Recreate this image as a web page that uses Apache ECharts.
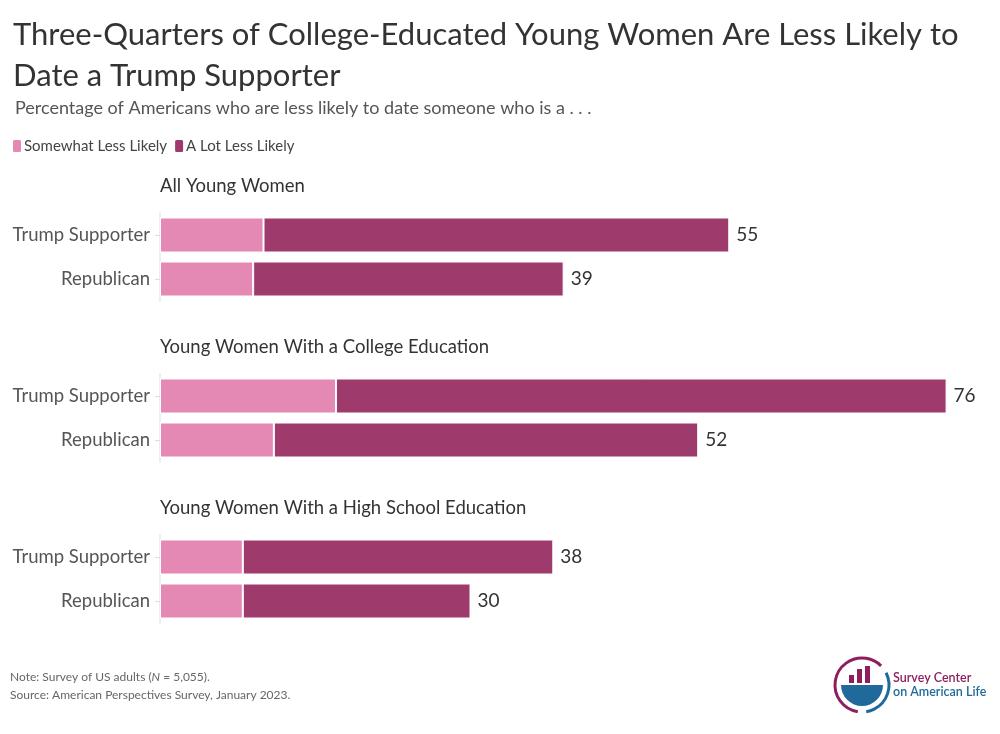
<!DOCTYPE html>
<html><head><meta charset="utf-8">
<script src="https://cdn.jsdelivr.net/npm/echarts@6/dist/echarts.min.js"></script>
<style>html,body{margin:0;padding:0;background:#fff}#c{width:1000px;height:734px}</style>
</head><body><div id="c"></div>
<script>
const categories = ['Trump Supporter', 'Republican'];
const groupTitles = ['All Young Women', 'Young Women With a College Education', 'Young Women With a High School Education'];
const somewhatLess = [[10, 9], [17, 11], [8, 8]];
const aLotLess = [[45, 30], [59, 41], [30, 22]];
const seriesNames = ['Somewhat Less Likely', 'A Lot Less Likely'];

const FONT = 'Lato, "Open Sans", sans-serif';
const colors = ['#E488B4', '#9F3A6C'];
const gridTops = [213, 374, 535];

const grids = [], xAxes = [], yAxes = [], series = [], graphics = [];
gridTops.forEach((t, i) => {
  grids.push({left: 160, top: t, width: 828, height: 88, containLabel: false});
  xAxes.push({type: 'value', gridIndex: i, min: 0, max: 80, show: false});
  yAxes.push({
    type: 'category', gridIndex: i, data: categories, inverse: true,
    axisLine: {show: true, lineStyle: {color: '#eeeeee', width: 2}},
    axisTick: {show: true, alignWithLabel: true, length: 5, lineStyle: {color: '#dddddd'}},
    axisLabel: {color: '#555', fontSize: 18.5, fontFamily: FONT, margin: 10}
  });
  series.push({
    name: seriesNames[0], type: 'bar', stack: 's' + i, xAxisIndex: i, yAxisIndex: i,
    data: somewhatLess[i], barWidth: 35, itemStyle: {color: colors[0], borderColor: '#fff', borderWidth: 1}
  });
  series.push({
    name: seriesNames[1], type: 'bar', stack: 's' + i, xAxisIndex: i, yAxisIndex: i,
    data: aLotLess[i], barWidth: 35, itemStyle: {color: colors[1], borderColor: '#fff', borderWidth: 1},
    label: {show: true, position: 'right', distance: 7, color: '#333', fontSize: 19, fontFamily: FONT,
      formatter: p => String(somewhatLess[i][p.dataIndex] + aLotLess[i][p.dataIndex])}
  });
  graphics.push({type: 'text', left: 160, top: t - 36,
    style: {text: groupTitles[i], fill: '#333', font: '18.5px ' + FONT}});
});

// logo
graphics.push(
  {type: 'arc', shape: {cx: 862, cy: 685, r: 27, startAngle: Math.PI * 0.55, endAngle: Math.PI * 1.75}, style: {stroke: '#8E1F5E', lineWidth: 3, fill: 'none'}},
  {type: 'arc', shape: {cx: 862, cy: 685, r: 27, startAngle: Math.PI * 1.85, endAngle: Math.PI * 0.45}, style: {stroke: '#1F6A9A', lineWidth: 3, fill: 'none'}},
  {type: 'rect', shape: {x: 849, y: 675, width: 5, height: 8}, style: {fill: '#8E1F5E'}},
  {type: 'rect', shape: {x: 857, y: 669, width: 5, height: 14}, style: {fill: '#8E1F5E'}},
  {type: 'rect', shape: {x: 865, y: 666, width: 5, height: 17}, style: {fill: '#8E1F5E'}},
  {type: 'sector', shape: {cx: 862, cy: 685, r: 21, r0: 0, startAngle: 0, endAngle: Math.PI}, style: {fill: '#1F6A9A'}},
  {type: 'text', left: 893, top: 671, style: {text: 'Survey Center', fill: '#8E1F5E', font: '600 12.5px ' + FONT}},
  {type: 'text', left: 893, top: 685, style: {text: 'on American Life', fill: '#1F6A9A', font: '600 12.5px ' + FONT}},
  {type: 'text', left: 10, top: 671, style: {rich: {a: {fill: '#666', font: '12px ' + FONT}, i: {fill: '#666', font: 'italic 12px ' + FONT}},
    text: '{a|Note: Survey of US adults (}{i|N}{a| = 5,055).}'}},
  {type: 'text', left: 10, top: 689, style: {text: 'Source: American Perspectives Survey, January 2023.', fill: '#666', font: '12px ' + FONT}}
);

const chart = echarts.init(document.getElementById('c'));
chart.setOption({
  animation: false,
  title: [
    {text: 'Three-Quarters of College-Educated Young Women Are Less Likely to\nDate a Trump Supporter', left: 8, top: 9,
      textStyle: {fontFamily: FONT, fontSize: 31, fontWeight: 'normal', color: '#333', lineHeight: 41}},
    {text: 'Percentage of Americans who are less likely to date someone who is a . . .', left: 10, top: 94,
      textStyle: {fontFamily: FONT, fontSize: 18, fontWeight: 'normal', color: '#555'}}
  ],
  legend: {left: 6, top: 133, itemWidth: 10, itemHeight: 14, itemGap: 6, data: seriesNames,
    icon: 'roundRect', textStyle: {fontFamily: FONT, fontSize: 15, color: '#444', padding: [0, 0, 0, -3]}},
  grid: grids, xAxis: xAxes, yAxis: yAxes, series: series, graphic: graphics
});
</script></body></html>
